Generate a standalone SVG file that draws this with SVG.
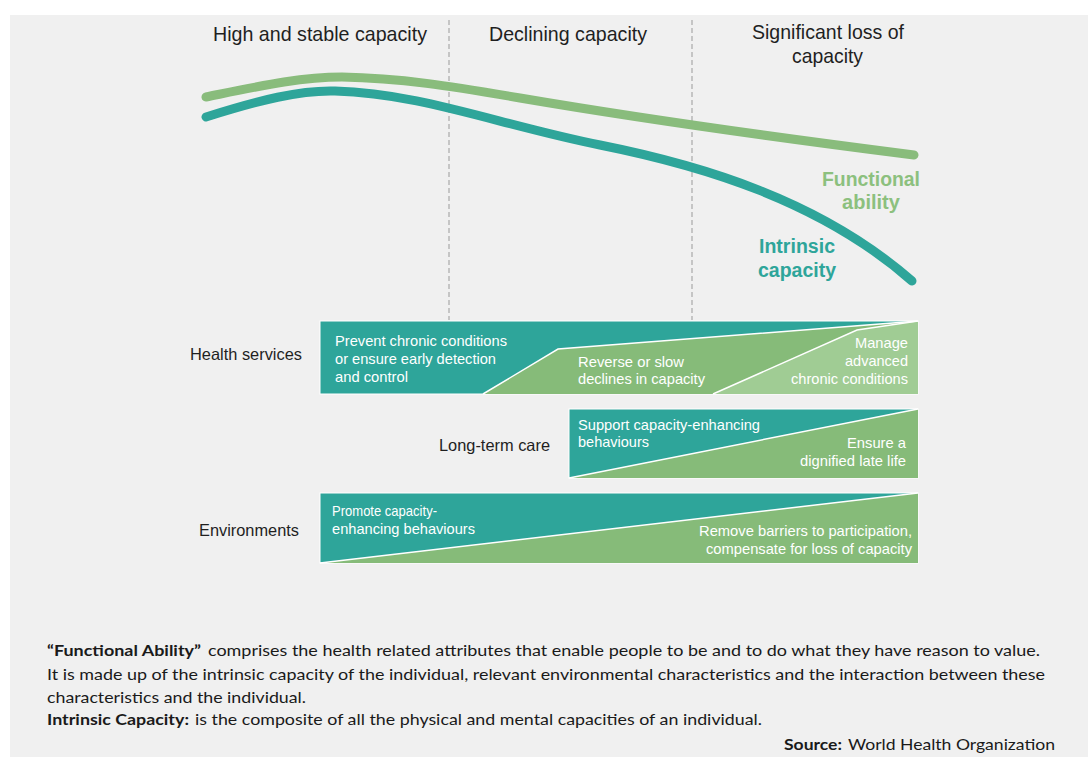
<svg xmlns="http://www.w3.org/2000/svg" width="1088" height="758" viewBox="0 0 1088 758">
<style>
.hdr{font-family:"Liberation Sans",Arial,sans-serif;font-size:21px;fill:#1f1f1f}
.lbl{font-family:"Liberation Sans",Arial,sans-serif;font-size:16.5px;fill:#1f1f1f}
.bt{font-family:"Liberation Sans",Arial,sans-serif;font-size:15px;fill:#ffffff}
.cv{font-family:"Liberation Sans",Arial,sans-serif;font-size:20px;font-weight:bold}
.note{font-family:Lato,"Liberation Sans",sans-serif;font-size:15px;fill:#1a1a1a}
.b{font-weight:bold}
.teal{fill:#2ea59a}
.green{fill:#86bb79}
.lgreen{fill:#a0cc94}
.sep{stroke:#ffffff;stroke-width:1.5;fill:none}
.dash{stroke:#9a9a9a;stroke-width:1;stroke-dasharray:5,3;fill:none}
</style>
<rect x="0" y="0" width="1088" height="758" fill="#ffffff"/>
<rect x="10" y="15" width="1078" height="742" fill="#f0f0f0"/>

<g id="phases">
<line class="dash" x1="449" y1="20" x2="449" y2="320"/>
<line class="dash" x1="692" y1="20" x2="692" y2="320"/>
<text class="hdr" x="213" y="41" textLength="214" lengthAdjust="spacingAndGlyphs">High and stable capacity</text>
<text class="hdr" x="489" y="41" textLength="158" lengthAdjust="spacingAndGlyphs">Declining capacity</text>
<text class="hdr" x="752" y="39" textLength="152" lengthAdjust="spacingAndGlyphs">Significant loss of</text>
<text class="hdr" x="792" y="63" textLength="71" lengthAdjust="spacingAndGlyphs">capacity</text>
</g>

<g id="curves">
<path d="M206,97 C260,86 300,77 342,77 C400,78 450,86 520,98 C620,115 780,138 914,155" fill="none" stroke="#89bc7c" stroke-width="9" stroke-linecap="round"/>
<path d="M206,117 C260,100 300,90 335,91 C420,93 500,125 600,145 C700,165 820,200 912,281" fill="none" stroke="#2ea59a" stroke-width="9" stroke-linecap="round"/>
<text class="cv" x="871" y="186" text-anchor="middle" fill="#8cc07e" textLength="98" lengthAdjust="spacingAndGlyphs">Functional</text>
<text class="cv" x="871" y="209" text-anchor="middle" fill="#8cc07e">ability</text>
<text class="cv" x="797" y="253" text-anchor="middle" fill="#2ea59a" textLength="76" lengthAdjust="spacingAndGlyphs">Intrinsic</text>
<text class="cv" x="797" y="277" text-anchor="middle" fill="#2ea59a" textLength="78" lengthAdjust="spacingAndGlyphs">capacity</text>
</g>

<g id="health-services">
<text class="lbl" x="302" y="360" text-anchor="end" textLength="112" lengthAdjust="spacingAndGlyphs">Health services</text>
<rect class="teal" x="320" y="321" width="598" height="73" stroke="#ffffff" stroke-width="1"/>
<polygon class="green" points="483,394 558,349 918,321 918,394"/>
<polygon class="lgreen" points="713,394 857,330 918,321 918,394"/>
<polyline class="sep" points="483,394 558,349 918,321"/>
<polyline class="sep" points="713,394 857,330 918,321"/>
<text class="bt" x="335" y="346" textLength="172" lengthAdjust="spacingAndGlyphs">Prevent chronic conditions</text>
<text class="bt" x="335" y="364" textLength="161" lengthAdjust="spacingAndGlyphs">or ensure early detection</text>
<text class="bt" x="335" y="382" textLength="73" lengthAdjust="spacingAndGlyphs">and control</text>
<text class="bt" x="578" y="367" textLength="106" lengthAdjust="spacingAndGlyphs">Reverse or slow</text>
<text class="bt" x="578" y="384" textLength="127" lengthAdjust="spacingAndGlyphs">declines in capacity</text>
<text class="bt" x="908" y="348" text-anchor="end" textLength="53" lengthAdjust="spacingAndGlyphs">Manage</text>
<text class="bt" x="908" y="366" text-anchor="end" textLength="63" lengthAdjust="spacingAndGlyphs">advanced</text>
<text class="bt" x="908" y="384" text-anchor="end" textLength="117" lengthAdjust="spacingAndGlyphs">chronic conditions</text>
</g>

<g id="long-term-care">
<text class="lbl" x="550" y="451" text-anchor="end" textLength="111" lengthAdjust="spacingAndGlyphs">Long-term care</text>
<rect class="teal" x="569" y="409" width="349" height="69" stroke="#ffffff" stroke-width="1"/>
<polygon class="green" points="569,478 918,409 918,478"/>
<line class="sep" x1="569" y1="478" x2="918" y2="409"/>
<text class="bt" x="578" y="430" textLength="182" lengthAdjust="spacingAndGlyphs">Support capacity-enhancing</text>
<text class="bt" x="578" y="447" textLength="71" lengthAdjust="spacingAndGlyphs">behaviours</text>
<text class="bt" x="906" y="448" text-anchor="end" textLength="59" lengthAdjust="spacingAndGlyphs">Ensure a</text>
<text class="bt" x="906" y="466" text-anchor="end" textLength="106" lengthAdjust="spacingAndGlyphs">dignified late life</text>
</g>

<g id="environments">
<text class="lbl" x="299" y="536" text-anchor="end" textLength="100" lengthAdjust="spacingAndGlyphs">Environments</text>
<rect class="teal" x="320" y="493" width="598" height="70" stroke="#ffffff" stroke-width="1"/>
<polygon class="green" points="320,563 918,493 918,563"/>
<line class="sep" x1="320" y1="563" x2="918" y2="493"/>
<text class="bt" x="332" y="516" textLength="105" lengthAdjust="spacingAndGlyphs">Promote capacity-</text>
<text class="bt" x="332" y="534" textLength="143" lengthAdjust="spacingAndGlyphs">enhancing behaviours</text>
<text class="bt" x="912" y="536" text-anchor="end" textLength="213" lengthAdjust="spacingAndGlyphs">Remove barriers to participation,</text>
<text class="bt" x="912" y="554" text-anchor="end" textLength="206" lengthAdjust="spacingAndGlyphs">compensate for loss of capacity</text>
</g>

<g id="definitions">
<text class="note b" x="47" y="656" textLength="154" lengthAdjust="spacingAndGlyphs">“Functional Ability”</text>
<text class="note" x="208" y="656" textLength="832" lengthAdjust="spacingAndGlyphs">comprises the health related attributes that enable people to be and to do what they have reason to value.</text>
<text class="note" x="47" y="680" textLength="998" lengthAdjust="spacingAndGlyphs">It is made up of the intrinsic capacity of the individual, relevant environmental characteristics and the interaction between these</text>
<text class="note" x="47" y="703" textLength="259" lengthAdjust="spacingAndGlyphs">characteristics and the individual.</text>
<text class="note b" x="47" y="725" textLength="142" lengthAdjust="spacingAndGlyphs">Intrinsic Capacity:</text>
<text class="note" x="195" y="725" textLength="567" lengthAdjust="spacingAndGlyphs">is the composite of all the physical and mental capacities of an individual.</text>
<text class="note b" x="784" y="750" textLength="58" lengthAdjust="spacingAndGlyphs">Source:</text>
<text class="note" x="848" y="750" textLength="207" lengthAdjust="spacingAndGlyphs">World Health Organization</text>
</g>
</svg>
